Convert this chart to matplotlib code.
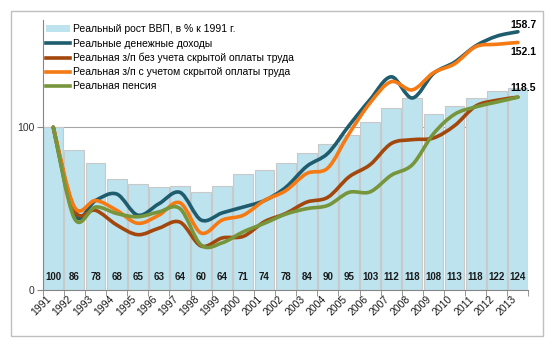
import numpy as np
import matplotlib
matplotlib.use('Agg')
import matplotlib.pyplot as plt
from matplotlib.path import Path
from matplotlib.patches import PathPatch, Patch, Rectangle
from matplotlib.lines import Line2D

plt.rcParams['font.family'] = ['Liberation Sans', 'DejaVu Sans']

years = [str(y) for y in range(1991, 2014)]
gdp = [100, 86, 78, 68, 65, 63, 64, 60, 64, 71, 74, 78, 84, 90, 95, 103, 112, 118, 108, 113, 118, 122, 124]
money_income = [100, 46, 55, 59, 46, 53, 60, 43, 47.4, 51, 55, 63, 76, 84, 101, 117, 131, 118, 133, 140, 150, 156, 158.7]
wage_no_hidden = [100, 49, 49, 40, 34, 38, 41.7, 27, 32, 33, 42, 47, 54, 57, 69.5, 77, 90, 92.4, 93.4, 101, 113, 116.6, 118.5]
wage_hidden = [100, 51, 55, 49, 41, 46, 53.6, 35, 43, 46, 55, 61, 71.6, 75, 96, 115, 128, 123, 133.5, 139, 149.5, 151, 152.1]
pension = [100, 44, 51, 47, 45, 48, 50, 27.6, 29, 35.8, 41, 46.6, 50, 52, 60, 60.3, 70.5, 77, 96, 108, 112.5, 115.5, 118.5]

names = ['Реальный рост ВВП, в % к 1991 г.',
         'Реальные денежные доходы',
         'Реальная з/п без учета скрытой оплаты труда',
         'Реальная з/п с учетом скрытой оплаты труда',
         'Реальная пенсия']
colors = ['#BDE3EF', '#1F5C6E', '#A3470C', '#F57A14', '#77953A']


def smooth_path(x, y):
    # excel-like smoothed line: cubic bezier segments through the points
    p = np.column_stack([x, y]).astype(float)
    n = len(p)
    verts = [p[0]]
    codes = [Path.MOVETO]
    for i in range(n - 1):
        p0 = p[i - 1] if i > 0 else p[i]
        p3 = p[i + 2] if i + 2 < n else p[i + 1]
        c1 = p[i] + (p[i + 1] - p0) / 6
        c2 = p[i + 1] - (p3 - p[i]) / 6
        verts += [c1, c2, p[i + 1]]
        codes += [Path.CURVE4] * 3
    return Path(verts, codes)


fig = plt.figure(figsize=(5.52, 3.45), dpi=100)
ax = fig.add_axes([0.0774, 0.1594, 0.880, 0.783])
fig.patches.append(Rectangle((11 / 552, 9 / 345), 532 / 552, 325 / 345, transform=fig.transFigure,
                             fill=False, edgecolor='#BFBFBF', linewidth=1))

x = np.arange(len(years))
ax.bar(x, gdp, width=0.94, color=colors[0], edgecolor='#C9C9C9', linewidth=0.8, zorder=2)
for xi, v in zip(x, gdp):
    ax.text(xi, 8, str(v), ha='center', va='center', fontsize=7, fontweight='bold', color='#1a1a1a', zorder=3)

series = [money_income, wage_no_hidden, wage_hidden, pension]
for s, c in zip(series, colors[1:]):
    ax.add_patch(PathPatch(smooth_path(x, s), fill=False, edgecolor=c, linewidth=2.6,
                           capstyle='round', joinstyle='round', zorder=4))

ax.text(x[-1] + 0.25, money_income[-1] + 4, '158.7', ha='center', va='center', fontsize=7.5, fontweight='bold', zorder=5)
ax.text(x[-1] + 0.25, wage_hidden[-1] - 6, '152.1', ha='center', va='center', fontsize=7.5, fontweight='bold', zorder=5)
ax.text(x[-1] + 0.25, pension[-1] + 5.5, '118.5', ha='center', va='center', fontsize=7.5, fontweight='bold', zorder=5)

ax.set_xlim(-0.5, len(years) - 0.5)
ax.set_ylim(0, 166)
ax.set_yticks([0, 100])
ax.set_yticklabels(['0', '100'], fontsize=7.5, color='#333333')
ax.axhline(100, color='#A6A6A6', linewidth=0.8, zorder=1)

ax.set_xticks(x)
ax.set_xticklabels(years, rotation=45, ha='right', fontsize=7.5, color='#1a1a1a')
ax.set_xticks(np.arange(-0.5, len(years)), minor=True)
ax.tick_params(axis='x', which='major', length=0, pad=3)
ax.tick_params(axis='x', which='minor', length=4, color='#868686')
ax.tick_params(axis='y', length=4, color='#868686', pad=2)

for side in ['top', 'right']:
    ax.spines[side].set_visible(False)
for side in ['left', 'bottom']:
    ax.spines[side].set_color('#868686')
    ax.spines[side].set_linewidth(0.8)

handles = [Patch(facecolor=colors[0], edgecolor='none')]
handles += [Line2D([0], [0], color=c, linewidth=2.6) for c in colors[1:]]
leg = ax.legend(handles, names, loc='upper left', bbox_to_anchor=(0.0, 0.995), frameon=False,
                fontsize=7.5, handlelength=2.3, handleheight=0.6, handletextpad=0.3,
                labelspacing=0.4, borderaxespad=0.1, borderpad=0.2)
leg.set_zorder(6)

fig.savefig('out.png', dpi=100)
